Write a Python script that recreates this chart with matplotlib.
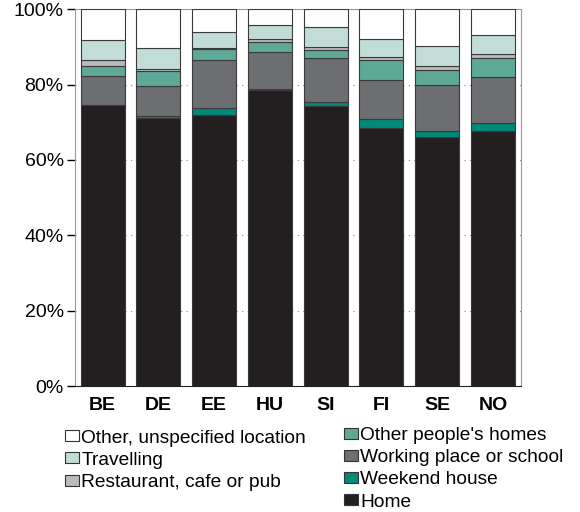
import numpy as np
import matplotlib.pyplot as plt
from matplotlib.patches import Patch

plt.rcParams['font.family'] = ['Liberation Sans', 'DejaVu Sans']

countries = ['BE', 'DE', 'EE', 'HU', 'SI', 'FI', 'SE', 'NO']

# shares in % of time, bottom to top
home = [74.5, 71.2, 71.8, 78.5, 74.2, 68.5, 66.2, 67.6]
weekend = [0.0, 0.5, 2.1, 0.2, 1.2, 2.3, 1.4, 2.3]
working = [7.9, 8.0, 12.7, 9.9, 11.7, 10.5, 12.4, 12.0]
others_homes = [2.6, 3.8, 2.9, 2.8, 2.1, 5.1, 4.0, 5.2]
restaurant = [1.4, 0.7, 0.3, 0.7, 0.8, 0.9, 0.8, 0.9]
travelling = [5.4, 5.4, 4.2, 3.6, 5.3, 4.8, 5.5, 5.1]
other = [8.2, 10.4, 6.0, 4.3, 4.7, 7.9, 9.7, 6.9]

series = [
    ('Home', home, '#231f20'),
    ('Weekend house', weekend, '#00897a'),
    ('Working place or school', working, '#6d6e71'),
    ("Other people's homes", others_homes, '#5ea898'),
    ('Restaurant, cafe or pub', restaurant, '#b9babc'),
    ('Travelling', travelling, '#c2ddd7'),
    ('Other, unspecified location', other, '#ffffff'),
]

fig = plt.figure(figsize=(5.8, 5.12), dpi=100)
ax = fig.add_axes([0.129, 0.246, 0.769, 0.736])

x = np.arange(len(countries))
bottom = np.zeros(len(countries))
for name, vals, col in series:
    ax.bar(x, vals, 0.79, bottom=bottom, color=col, edgecolor='#3a3a3a',
           linewidth=0.8, zorder=3)
    bottom += np.array(vals)

ax.set_xlim(-0.5, 7.5)
ax.set_ylim(0, 100)
ax.set_yticks(range(0, 101, 20))
ax.set_yticklabels([f'{v}%' for v in range(0, 101, 20)], fontsize=14)
ax.set_xticks(x)
ax.set_xticklabels(countries, fontsize=14, fontweight='bold')
ax.tick_params(axis='x', length=0, pad=8)
ax.tick_params(axis='y', length=6, width=1, direction='out', pad=2)
ax.yaxis.grid(True, linestyle=(0, (1, 4)), color='#888888', linewidth=0.8, zorder=0)
for s in ['left', 'right', 'top']:
    ax.spines[s].set_color('#999999')
ax.spines['bottom'].set_color('#222222')

lookup = {n: c for n, v, c in series}
def handles(names):
    return [Patch(facecolor=lookup[n], edgecolor='#333333', linewidth=0.8, label=n) for n in names]

leg_kw = dict(frameon=False, fontsize=13.8, handlelength=0.75, handleheight=0.5,
              handletextpad=0.1, labelspacing=0.27, borderaxespad=0, borderpad=0)
fig.legend(handles=handles(['Other, unspecified location', 'Travelling', 'Restaurant, cafe or pub']),
           loc='upper left', bbox_to_anchor=(0.112, 0.161), **leg_kw)
fig.legend(handles=handles(["Other people's homes", 'Working place or school', 'Weekend house', 'Home']),
           loc='upper left', bbox_to_anchor=(0.593, 0.166), **leg_kw)

fig.savefig('out.png', dpi=100)
